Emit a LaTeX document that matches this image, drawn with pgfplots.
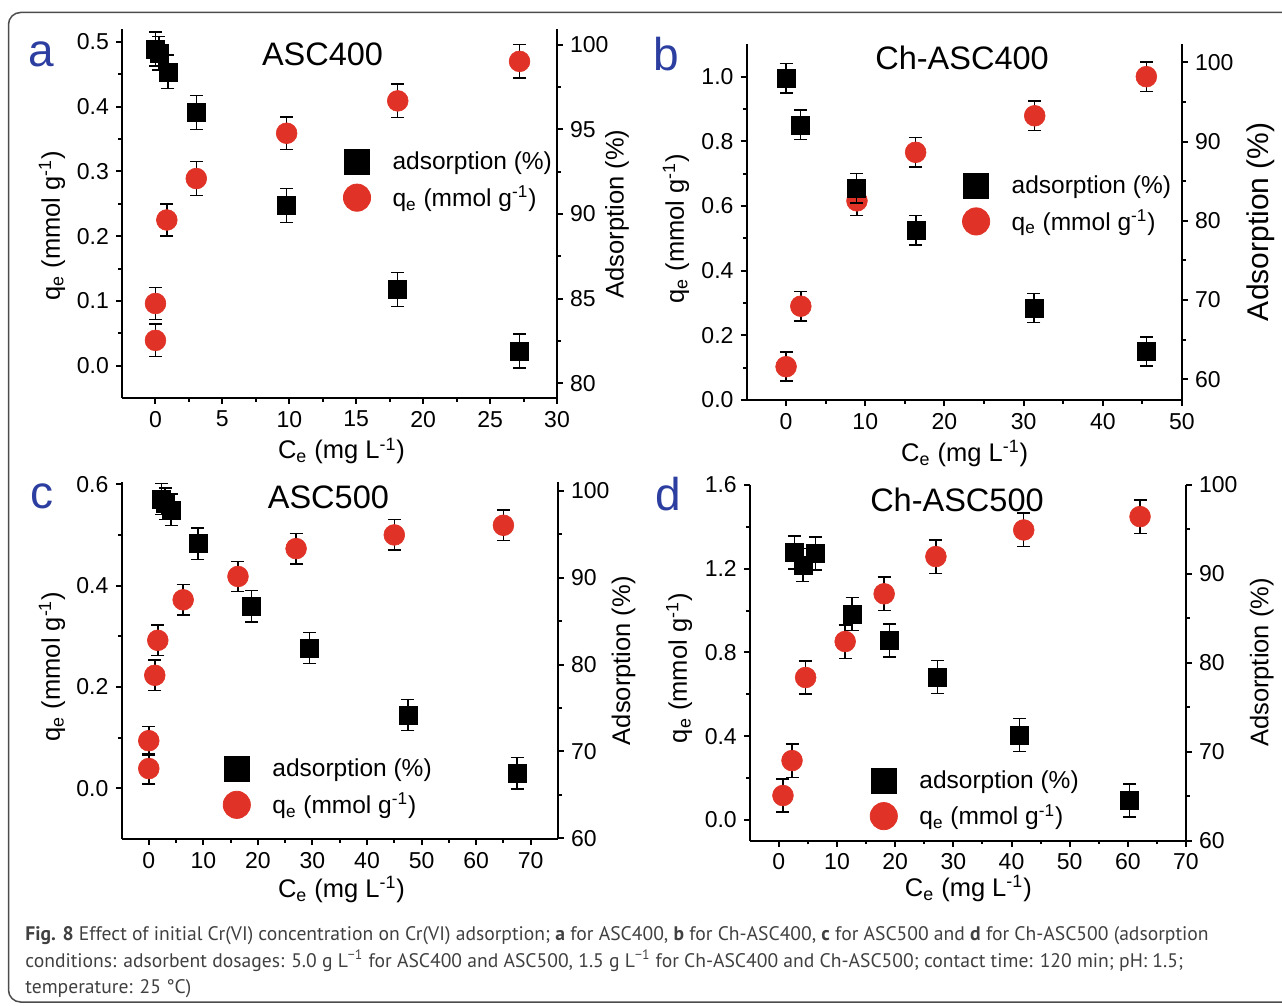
\documentclass[border=0pt]{standalone}
\usepackage{fontspec}
\setmainfont{Liberation Sans}
\newfontfamily\capfont{PT Sans}
\usepackage{pgfplots}
\pgfplotsset{compat=1.18}
\definecolor{qred}{RGB}{224,50,38}
\definecolor{blueL}{RGB}{44,62,160}
\definecolor{capgray}{RGB}{64,64,64}
\pgfplotsset{
  dualbase/.style={scale only axis, tick align=outside, clip=false, anchor=south west,
    axis line style={line width=1pt,-},
    every tick/.append style={line width=1pt, black},
    major tick length=3pt, minor tick length=1.8pt,
    tick label style={font=\fontsize{11.5}{13.8}\selectfont},
    /pgf/number format/assume math mode=true,
    label style={font=\fontsize{12.75}{15.3}\selectfont},
    legend cell align=left,
    legend image code/.code={\draw[##1] plot coordinates {(0pt,0pt)};},
  },
  errs/.style={error bars/y dir=both, error bars/y explicit,
    error bars/error bar style={line width=0.75pt, black, solid},
    error bars/error mark options={rotate=90, line width=0.75pt, black, mark size=3.25pt}},
  sq/.style={only marks, mark=square*, mark size=4.5pt, black, mark options={line width=0.3pt}, errs, forget plot},
  ci/.style={only marks, mark=*, mark size=5.2pt, qred, mark options={line width=0.3pt, fill=qred, draw=qred}, errs, forget plot},
  legsq/.style={mark=square*, mark size=6.25pt, black, mark options={fill=black}},
  legci/.style={mark=*, mark size=6.8pt, qred, mark options={fill=qred, draw=qred}},
  legbase/.style={legend style={draw=none, fill=none, anchor=north west, inner sep=0pt, outer sep=0pt,
     row sep=4.7pt, font=\fontsize{12.25}{14.7}\selectfont, nodes={inner sep=0pt},
     /tikz/every odd column/.append style={column sep=11pt}}},
  yfix/.style={yticklabel style={/pgf/number format/fixed, /pgf/number format/fixed zerofill, /pgf/number format/precision=1}},
}
\newcommand{\qlabel}{q\textsubscript{e} (mmol g\textsuperscript{-1})}
\newcommand{\clabel}{C\textsubscript{e} (mg L\textsuperscript{-1})}
\newcommand{\titlefont}{\fontsize{16.25}{19.5}\selectfont}
\newcommand{\letterfont}{\fontsize{23}{27}\selectfont}
\begin{document}
\begin{tikzpicture}
\useasboundingbox (0pt,0pt) rectangle (641pt,-503pt);
% ---------------- panel a ----------------
\begin{axis}[dualbase, at={(61pt,-199pt)}, width=217.5pt, height=184.5pt,
  axis x line*=bottom, axis y line*=left,
  xmin=-2.5, xmax=30, ymin=-0.05, ymax=0.52,
  xtick={0,5,10,15,20,25,30}, minor x tick num=1,
  ytick={0,0.1,0.2,0.3,0.4,0.5}, minor y tick num=1, yfix,
  xlabel={\clabel}, ylabel={\qlabel},
  xlabel style={at={(axis description cs:0.5046,-0.165)}, anchor=base},
  ylabel style={at={(axis description cs:-0.161,0.467)}, anchor=center}]
\addplot[ci] coordinates {(0,0.039) +- (0,0.025) (0,0.096) +- (0,0.025) (0.85,0.225) +- (0,0.025) (3.05,0.289) +- (0,0.026) (9.8,0.359) +- (0,0.025) (18.1,0.409) +- (0,0.026) (27.2,0.470) +- (0,0.026)};
\node[anchor=base, font=\titlefont] at (axis description cs:0.461,0.902) {ASC400};
\node[anchor=base, font=\letterfont, text=blueL] at (axis description cs:-0.185,0.898) {a};
\end{axis}
\begin{axis}[dualbase, at={(61pt,-199pt)}, width=217.5pt, height=184.5pt,
  axis x line=none, axis y line*=right,
  xmin=-2.5, xmax=30, ymin=79.13, ymax=100.93,
  ytick={80,85,90,95,100}, minor y tick num=1,
  ylabel={Adsorption (\%)},
  ylabel style={at={(axis description cs:1.138,0.499)}, anchor=center},
  legbase, legend style={at={(axis description cs:0.509,0.673)}}]
\addplot[sq] coordinates {(0,99.75) +- (0,1.0) (0.25,99.5) +- (0,1.0) (0.93,98.4) +- (0,1.0) (3.05,96.0) +- (0,1.0) (9.8,90.5) +- (0,1.0) (18.1,85.55) +- (0,1.0) (27.2,81.9) +- (0,1.0)};
\addlegendimage{legsq}\addlegendentry{adsorption (\%)}
\addlegendimage{legci}\addlegendentry{\qlabel}
\end{axis}
% ---------------- panel b ----------------
\begin{axis}[dualbase, at={(373.25pt,-200pt)}, width=217.75pt, height=177.85pt,
  axis x line*=bottom, axis y line*=left,
  xmin=-5, xmax=50, ymin=0, ymax=1.1,
  xtick={0,10,20,30,40,50}, minor x tick num=1,
  ytick={0,0.2,0.4,0.6,0.8,1.0}, minor y tick num=1, yfix,
  xlabel={\clabel}, ylabel={\qlabel},
  xlabel style={at={(axis description cs:0.501,-0.173)}, anchor=base},
  ylabel style={at={(axis description cs:-0.162,0.482)}, anchor=center}]
\addplot[ci] coordinates {(0,0.103) +- (0,0.045) (1.86,0.290) +- (0,0.046) (8.95,0.616) +- (0,0.046) (16.36,0.766) +- (0,0.046) (31.4,0.879) +- (0,0.045) (45.5,1.0) +- (0,0.046)};
\node[anchor=base, font=\titlefont] at (axis description cs:0.495,0.928) {Ch-ASC400};
\node[anchor=base, font=\letterfont, text=blueL] at (axis description cs:-0.185,0.926) {b};
\end{axis}
\begin{axis}[dualbase, at={(373.25pt,-200pt)}, width=217.75pt, height=177.85pt,
  axis x line=none, axis y line*=right,
  xmin=-5, xmax=50, ymin=57.39, ymax=102.27,
  ytick={60,70,80,90,100}, minor y tick num=1,
  ylabel={Adsorption (\%)},
  ylabel style={at={(axis description cs:1.181,0.501)}, anchor=center, font=\fontsize{15}{18}\selectfont},
  legbase, legend style={at={(axis description cs:0.496,0.637)}}]
\addplot[sq] coordinates {(0,98.0) +- (0,1.85) (1.8,92.1) +- (0,1.85) (8.9,84.1) +- (0,1.85) (16.4,78.8) +- (0,1.85) (31.3,69.0) +- (0,1.85) (45.5,63.5) +- (0,1.85)};
\addlegendimage{legsq}\addlegendentry{adsorption (\%)}
\addlegendimage{legci}\addlegendentry{\qlabel}
\end{axis}
% ---------------- panel c ----------------
\begin{axis}[dualbase, at={(60.75pt,-419.5pt)}, width=218.25pt, height=178.65pt,
  axis x line*=bottom, axis y line*=left,
  xmin=-5, xmax=75, ymin=-0.1, ymax=0.605,
  xtick={0,10,20,30,40,50,60,70}, minor x tick num=1,
  ytick={0,0.2,0.4,0.6}, minor y tick num=1, yfix,
  xlabel={\clabel}, ylabel={\qlabel},
  xlabel style={at={(axis description cs:0.504,-0.164)}, anchor=base},
  ylabel style={at={(axis description cs:-0.159,0.483)}, anchor=center}]
\addplot[ci] coordinates {(0,0.039) +- (0,0.03) (0,0.094) +- (0,0.028) (1.1,0.223) +- (0,0.03) (1.65,0.292) +- (0,0.03) (6.3,0.372) +- (0,0.03) (16.35,0.418) +- (0,0.03) (27.0,0.473) +- (0,0.03) (45.0,0.50) +- (0,0.03) (65.0,0.519) +- (0,0.03)};
\node[anchor=base, font=\titlefont] at (axis description cs:0.474,0.924) {ASC500};
\node[anchor=base, font=\letterfont, text=blueL] at (axis description cs:-0.182,0.924) {c};
\end{axis}
\begin{axis}[dualbase, at={(60.75pt,-419.5pt)}, width=218.25pt, height=178.65pt,
  axis x line=none, axis y line*=right,
  xmin=-5, xmax=75, ymin=59.92, ymax=101.04,
  ytick={60,70,80,90,100}, minor y tick num=1,
  ylabel={Adsorption (\%)},
  ylabel style={at={(axis description cs:1.150,0.499)}, anchor=center},
  legbase, legend style={at={(axis description cs:0.233,0.230)}}]
\addplot[sq] coordinates {(2.3,99.05) +- (0,1.8) (3.0,98.5) +- (0,1.8) (4.1,97.8) +- (0,1.8) (9.0,93.9) +- (0,1.8) (18.8,86.7) +- (0,1.8) (29.5,81.9) +- (0,1.8) (47.5,74.2) +- (0,1.8) (67.5,67.5) +- (0,1.8)};
\addlegendimage{legsq}\addlegendentry{adsorption (\%)}
\addlegendimage{legci}\addlegendentry{\qlabel}
\end{axis}
% ---------------- panel d ----------------
\begin{axis}[dualbase, at={(374.9pt,-420.35pt)}, width=218.1pt, height=177.85pt,
  axis x line*=bottom, axis y line*=left,
  xmin=-5, xmax=70, ymin=-0.1, ymax=1.6,
  xtick={0,10,20,30,40,50,60,70}, minor x tick num=1,
  ytick={0,0.4,0.8,1.2,1.6}, minor y tick num=1, yfix,
  xlabel={\clabel}, ylabel={\qlabel},
  xlabel style={at={(axis description cs:0.501,-0.157)}, anchor=base},
  ylabel style={at={(axis description cs:-0.162,0.485)}, anchor=center}]
\addplot[ci] coordinates {(0.7,0.116) +- (0,0.08) (2.26,0.283) +- (0,0.08) (4.6,0.68) +- (0,0.08) (11.4,0.852) +- (0,0.08) (18.1,1.08) +- (0,0.08) (27.0,1.258) +- (0,0.08) (42.1,1.385) +- (0,0.08) (62.1,1.449) +- (0,0.08)};
\node[anchor=base, font=\titlefont] at (axis description cs:0.475,0.925) {Ch-ASC500};
\node[anchor=base, font=\letterfont, text=blueL] at (axis description cs:-0.186,0.928) {d};
\end{axis}
\begin{axis}[dualbase, at={(374.9pt,-420.35pt)}, width=218.1pt, height=177.85pt,
  axis x line=none, axis y line*=right,
  xmin=-5, xmax=70, ymin=60, ymax=100,
  ytick={60,70,80,90,100}, minor y tick num=1,
  ylabel={Adsorption (\%)},
  ylabel style={at={(axis description cs:1.174,0.501)}, anchor=center},
  legbase, legend style={at={(axis description cs:0.276,0.204)}}]
\addplot[sq] coordinates {(2.67,92.4) +- (0,1.85) (4.13,91.0) +- (0,1.85) (6.28,92.3) +- (0,1.85) (12.6,85.5) +- (0,1.85) (19.0,82.5) +- (0,1.85) (27.3,78.4) +- (0,1.85) (41.4,71.9) +- (0,1.85) (60.3,64.5) +- (0,1.85)};
\addlegendimage{legsq}\addlegendentry{adsorption (\%)}
\addlegendimage{legci}\addlegendentry{\qlabel}
\end{axis}
% ---------------- frame and caption ----------------
\draw[line width=0.75pt, black!70, rounded corners=6pt] (4.25pt,-6.25pt) rectangle (660pt,-501pt);
\begin{scope}[every node/.style={anchor=base west, inner sep=0pt, text=capgray, font=\capfont\fontsize{9.8}{11.5}\selectfont}]
\node at (12.5pt,-470pt) {\textbf{Fig. 8} Effect of initial Cr(VI) concentration on Cr(VI) adsorption; \textbf{a} for ASC400, \textbf{b} for Ch-ASC400, \textbf{c} for ASC500 and \textbf{d} for Ch-ASC500 (adsorption};
\node at (12.5pt,-483.5pt) {conditions: adsorbent dosages: 5.0 g L\textsuperscript{−1} for ASC400 and ASC500, 1.5 g L\textsuperscript{−1} for Ch-ASC400 and Ch-ASC500; contact time: 120 min; pH: 1.5;};
\node at (12.5pt,-496.5pt) {temperature: 25 °C)};
\end{scope}
\end{tikzpicture}
\end{document}
